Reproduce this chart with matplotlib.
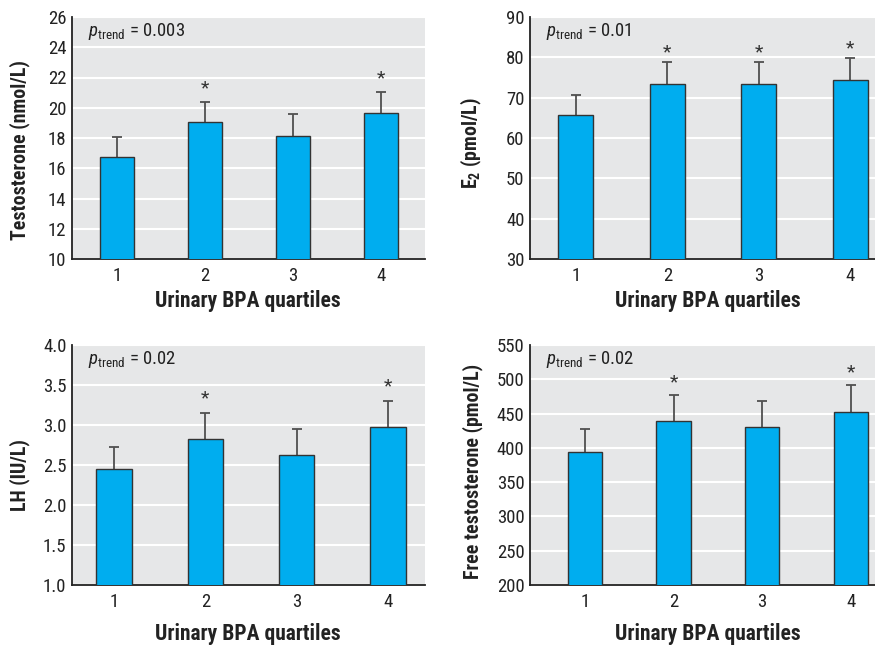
import matplotlib
matplotlib.use("Agg")
import matplotlib.pyplot as plt

plt.rcParams['font.family'] = ['Roboto Condensed', 'DejaVu Sans']
plt.rcParams['mathtext.fontset'] = 'custom'
plt.rcParams['mathtext.rm'] = 'Roboto Condensed'
plt.rcParams['mathtext.it'] = 'Roboto Condensed:italic'
plt.rcParams['mathtext.bf'] = 'Roboto Condensed:bold'

quartiles = [1, 2, 3, 4]
xlabel = "Urinary BPA quartiles"

# testosterone (nmol/L)
testo_mean = [16.75, 19.05, 18.15, 19.68]
testo_upper = [18.05, 20.37, 19.56, 21.03]
testo_star = [False, True, False, True]

# E2 (pmol/L)
e2_mean = [65.7, 73.5, 73.3, 74.3]
e2_upper = [70.6, 78.9, 78.9, 79.9]
e2_star = [False, True, True, True]

# LH (IU/L)
lh_mean = [2.45, 2.83, 2.63, 2.97]
lh_upper = [2.72, 3.15, 2.95, 3.30]
lh_star = [False, True, False, True]

# free testosterone (pmol/L)
ft_mean = [393.5, 439.0, 430.4, 452.7]
ft_upper = [427.5, 477.0, 468.3, 491.2]
ft_star = [False, True, False, True]

panels = [
    # mean, upper, stars, ylabel, ptrend, yticks, star offset
    (testo_mean, testo_upper, testo_star, "Testosterone (nmol/L)", "0.003",
     list(range(10, 27, 2)), 0.9),
    (e2_mean, e2_upper, e2_star, r"E$_\mathbf{2}$ (pmol/L)", "0.01",
     list(range(30, 91, 10)), 2.3),
    (lh_mean, lh_upper, lh_star, "LH (IU/L)", "0.02",
     [1.0, 1.5, 2.0, 2.5, 3.0, 3.5, 4.0], 0.18),
    (ft_mean, ft_upper, ft_star, "Free testosterone (pmol/L)", "0.02",
     list(range(200, 551, 50)), 19),
]

W, H = 875, 645
# axes boxes in pixels: left, bottom(from top), width, height, xlim lo, xlim hi
boxes = [
    (72, 259, 353, 242, 0.49, 4.5),
    (530, 259, 366, 242, 0.50, 4.5),
    (72, 585, 353, 240, 0.54, 4.405),
    (530, 585, 365, 240, 0.38, 4.5),
]
ylab_px = [30, 484, 30, 483]      # right edge of the y label
ylab_cy = [150, 143, 475, 471]    # vertical centre of the y label
xlab_center = [248, 708, 248, 708]
xlab_y = [290, 290, 623, 623]     # top of the x label

fig = plt.figure(figsize=(W / 100, H / 100), dpi=100)

for (mean, upper, star, ylab, ptr, yt, off), (l, b, w, h, x0, x1), ylx, ylc, xlc, xly in zip(
        panels, boxes, ylab_px, ylab_cy, xlab_center, xlab_y):
    ax = fig.add_axes([l / W, 1 - b / H, w / W, h / H])
    ax.set_facecolor("#e6e7e8")
    ax.bar(quartiles, mean, width=0.385, color="#00adef", edgecolor="#333333",
           linewidth=1.0, zorder=3)
    err = [u - m for u, m in zip(upper, mean)]
    eb = ax.errorbar(quartiles, mean, yerr=[[0] * 4, err], fmt="none",
                     ecolor="#505050", elinewidth=1.3, capsize=3.5,
                     capthick=1.3, zorder=2)
    eb[1][0].set_visible(False)
    for q, u, s in zip(quartiles, upper, star):
        if s:
            ax.text(q, u + off, "*", ha="center", va="center", fontsize=14,
                    color="#333333", zorder=4)
    ax.set_xlim(x0, x1)
    ax.set_ylim(yt[0], yt[-1])
    ax.set_yticks(yt)
    if isinstance(yt[0], float):
        ax.set_yticklabels(["%.1f" % v for v in yt])
    ax.set_xticks(quartiles)
    ax.grid(axis="y", color="white", linewidth=1.5, zorder=0)
    ax.set_axisbelow(True)
    for sp in ["top", "right"]:
        ax.spines[sp].set_visible(False)
    for sp in ["left", "bottom"]:
        ax.spines[sp].set_color("#222222")
        ax.spines[sp].set_linewidth(1.3)
    ax.tick_params(length=0, labelsize=13.5, colors="#222222", pad=6)
    ax.tick_params(axis="y", pad=4)
    ax.set_ylabel(ylab, fontsize=14.3, fontweight="bold", color="#222222")
    ax.yaxis.set_label_coords((ylx - l) / w, (b - ylc) / h)
    ax.set_xlabel(xlabel, fontsize=15.5, fontweight="bold", color="#222222")
    ax.xaxis.set_label_coords((xlc - l) / w, (b - xly) / h)
    ax.text(16 / w, 0.94, r"$p_{\mathrm{trend}}$ = " + ptr, transform=ax.transAxes,
            fontsize=13.5, va="center", ha="left", color="#222222")

fig.savefig("out.png", dpi=100)
